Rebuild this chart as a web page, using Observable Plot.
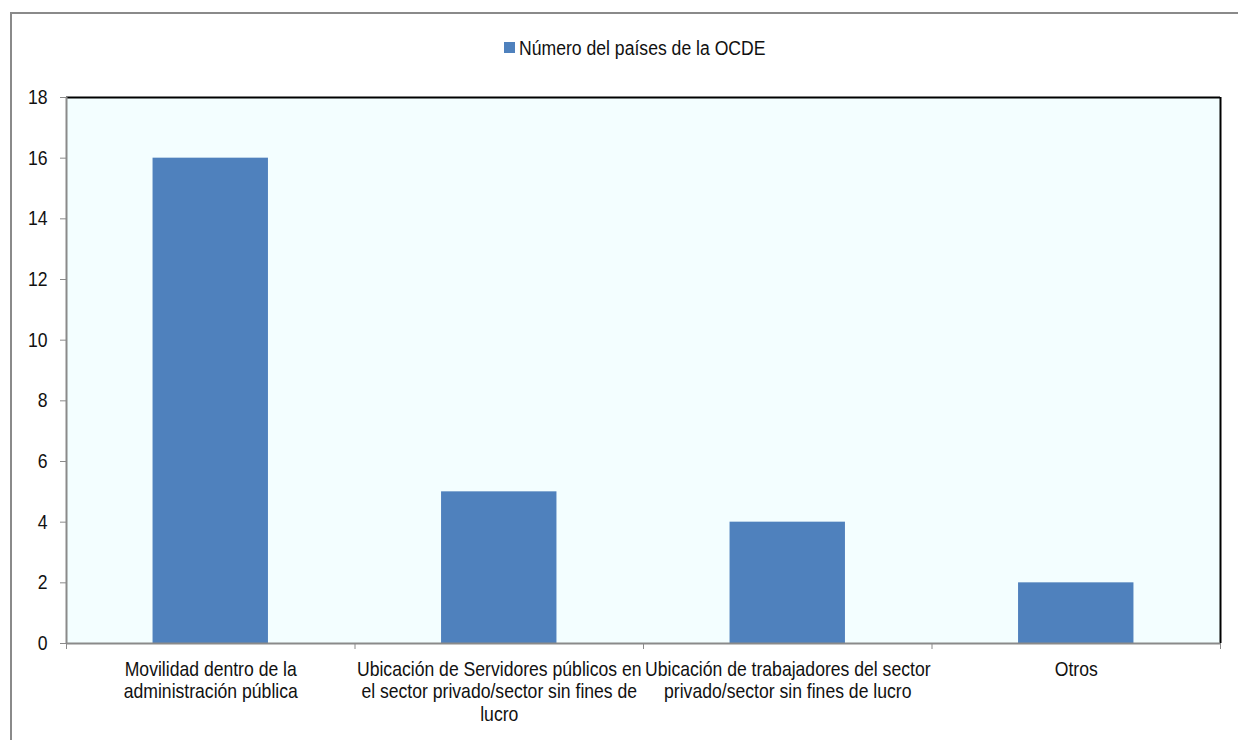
<!DOCTYPE html>
<html>
<head>
<meta charset="utf-8">
<script src="https://cdn.jsdelivr.net/npm/d3@7"></script>
<script src="https://cdn.jsdelivr.net/npm/@observablehq/plot@0.6"></script>
<style>
  html, body { margin: 0; padding: 0; background: #fff; overflow: hidden; }
  body { width: 1238px; height: 740px; position: relative; font-family: "Liberation Sans", Arial, sans-serif; }
  #border { position: absolute; left: 10px; top: 12px; width: 1260px; height: 760px; border: 2px solid #8a8a8a; box-sizing: border-box; }
  #chart { position: absolute; left: 0; top: 0; }
  #legend-sw { position: absolute; left: 504px; top: 42px; width: 11px; height: 11px; background: #4F81BD; }
  #legend-text { position: absolute; left: 519px; top: 36px; font-size: 20px; line-height: 24px; color: #111; white-space: nowrap; transform: scaleX(0.88); transform-origin: 0 0; }
</style>
</head>
<body>
<div id="border"></div>
<div id="chart"></div>
<div id="legend-sw"></div>
<div id="legend-text"></div>
<script>
const seriesName = "Número del países de la OCDE";
const categories = [
  "Movilidad dentro de la\nadministración pública",
  "Ubicación de Servidores públicos en\nel sector privado/sector sin fines de\nlucro",
  "Ubicación de trabajadores del sector\nprivado/sector sin fines de lucro",
  "Otros"
];
const values = [16, 5, 4, 2];
const yTicks = [0, 2, 4, 6, 8, 10, 12, 14, 16, 18];

const data = categories.map((c, i) => ({i, label: c, value: values[i]}));
const boundaries = d3.range(categories.length + 1);

document.getElementById("legend-text").textContent = seriesName;

const font = "'Liberation Sans', Arial, sans-serif";
const chart = Plot.plot({
  width: 1238,
  height: 740,
  marginLeft: 66,
  marginRight: 18,
  marginTop: 97,
  marginBottom: 97,
  x: {type: "linear", domain: [0, categories.length], axis: null},
  y: {domain: [0, 18], axis: null},
  style: {fontFamily: font, fontSize: "20px", background: "transparent", color: "#111"},
  marks: [
    Plot.frame({fill: "#F3FEFF", stroke: null}),
    Plot.rectY(data, {x1: d => d.i + 0.3, x2: d => d.i + 0.7, y: "value", fill: "#4F81BD"}),
    Plot.ruleY([18], {stroke: "black", strokeWidth: 2}),
    Plot.ruleX([categories.length], {stroke: "black", strokeWidth: 2}),
    Plot.ruleX([0], {stroke: "#8a8a8a", strokeWidth: 2}),
    Plot.ruleY([0], {stroke: "#8a8a8a", strokeWidth: 2}),
    Plot.axisY({ticks: yTicks, label: null, tickSize: 6, tickPadding: 13, stroke: "#8a8a8a", fill: "#111", fontSize: 20}),
    Plot.axisX({ticks: boundaries, label: null, tickSize: 6, tickFormat: () => "", stroke: "#8a8a8a"}),
    Plot.text(data, {x: d => d.i + 0.5, y: 0, text: "label", lineAnchor: "top", dy: 16, fontSize: 20, lineHeight: 1.135, fill: "#111"})
  ]
});
// condensed look: squeeze text horizontally around its anchor
d3.select(chart).selectAll("text").each(function() {
  const t = this.getAttribute("transform");
  if (t) this.setAttribute("transform", t + " scale(0.88,1)");
});
document.getElementById("chart").appendChild(chart);
</script>
</body>
</html>
